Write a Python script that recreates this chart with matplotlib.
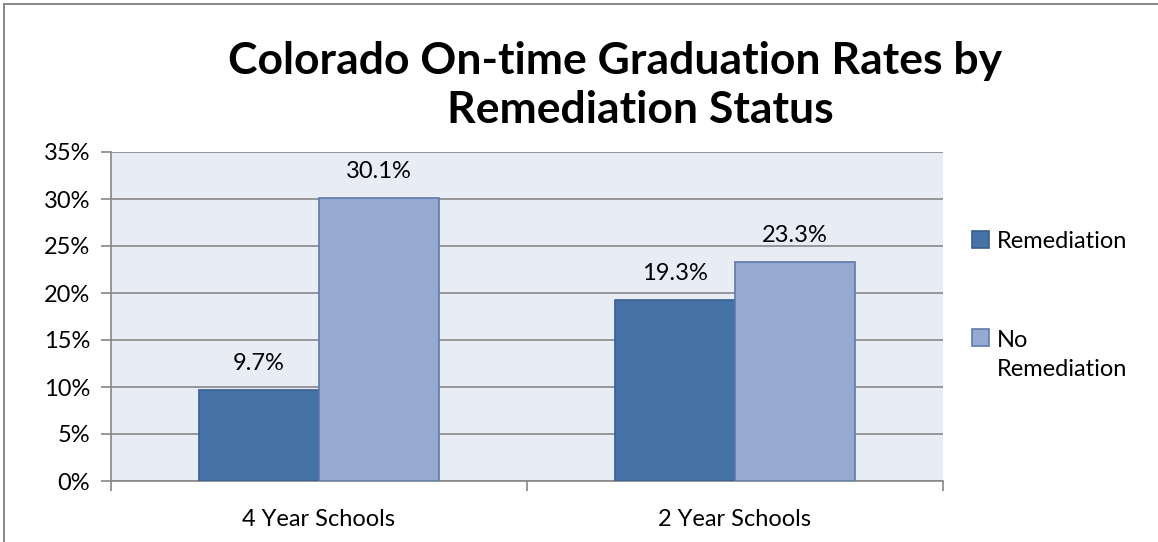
import numpy as np
import matplotlib.pyplot as plt
from matplotlib.lines import Line2D
from matplotlib.ticker import FixedLocator, FuncFormatter

# data
categories = ["4 Year Schools", "2 Year Schools"]
remediation = [9.7, 19.3]
no_remediation = [30.1, 23.3]
series_names = ["Remediation", "No\nRemediation"]

fig = plt.figure(figsize=(11.58, 5.42), dpi=100)
plt.rcParams['font.family'] = ['Lato', 'DejaVu Sans']

# outer chart border (only top and left edges show in the crop)
top = 1 - 4 / 542
left = 4 / 1158
fig.lines.append(Line2D([left, 1], [top, top], transform=fig.transFigure, color='#888888', lw=1.4))
fig.lines.append(Line2D([left, left], [0, top], transform=fig.transFigure, color='#888888', lw=1.4))

ax = fig.add_axes([111 / 1158, 1 - 481 / 542, 832 / 1158, 329 / 542])
ax.set_facecolor('#E8ECF4')

x = np.arange(len(categories))
w = 0.288
b1 = ax.bar(x - w / 2, remediation, w, color='#4573A7', edgecolor='#3A5F8E', linewidth=1.2,
            label=series_names[0], zorder=3)
b2 = ax.bar(x + w / 2, no_remediation, w, color='#95A9D1', edgecolor='#5C7BAA', linewidth=1.2,
            label=series_names[1], zorder=3)

for bars, vals in ((b1, remediation), (b2, no_remediation)):
    for r, v in zip(bars, vals):
        ax.annotate(f"{v:.1f}%", (r.get_x() + r.get_width() / 2, v), xytext=(0, 19),
                    textcoords='offset points', ha='center', va='center', fontsize=17)

ax.set_xlim(-0.5, len(categories) - 0.5)
ax.set_ylim(0, 35)
ax.set_yticks(np.arange(0, 36, 5))
ax.yaxis.set_major_formatter(FuncFormatter(lambda v, p: f"{v:.0f}%"))
ax.yaxis.grid(True, color='#888888', linewidth=1.2, zorder=0)
ax.set_axisbelow(True)

ax.set_xticks(x)
ax.set_xticklabels(categories, fontsize=17)
ax.xaxis.set_minor_locator(FixedLocator(np.arange(-0.5, len(categories), 1.0)))
ax.tick_params(axis='x', which='major', length=0, pad=20)
ax.tick_params(axis='x', which='minor', length=7, color='#888888', width=1.2)
ax.tick_params(axis='y', length=7, color='#888888', width=1.2, labelsize=17, pad=8)

for s in ['top', 'right']:
    ax.spines[s].set_visible(False)
for s in ['left', 'bottom']:
    ax.spines[s].set_color('#888888')
    ax.spines[s].set_linewidth(1.2)

fig.text(615 / 1158, 1 - 61 / 542, "Colorado On-time Graduation Rates by", ha='center', va='center',
         fontsize=32, fontweight='bold')
fig.text(640 / 1158, 1 - 110 / 542, "Remediation Status", ha='center', va='center',
         fontsize=32, fontweight='bold')

leg = ax.legend(loc='upper left', bbox_to_anchor=(972 / 1158, 1 - 231 / 542),
                bbox_transform=fig.transFigure, frameon=False, fontsize=17,
                handlelength=0.7, handleheight=0.7, handletextpad=0.35,
                labelspacing=3.3, borderaxespad=0, borderpad=0)
for t in leg.get_texts():
    t.set_linespacing(1.5)
# put the square of the two-line entry beside its first line
h = leg.legend_handles[1]
h.set_y(h.get_y() + 12.8)

fig.savefig("out.png", dpi=100)
